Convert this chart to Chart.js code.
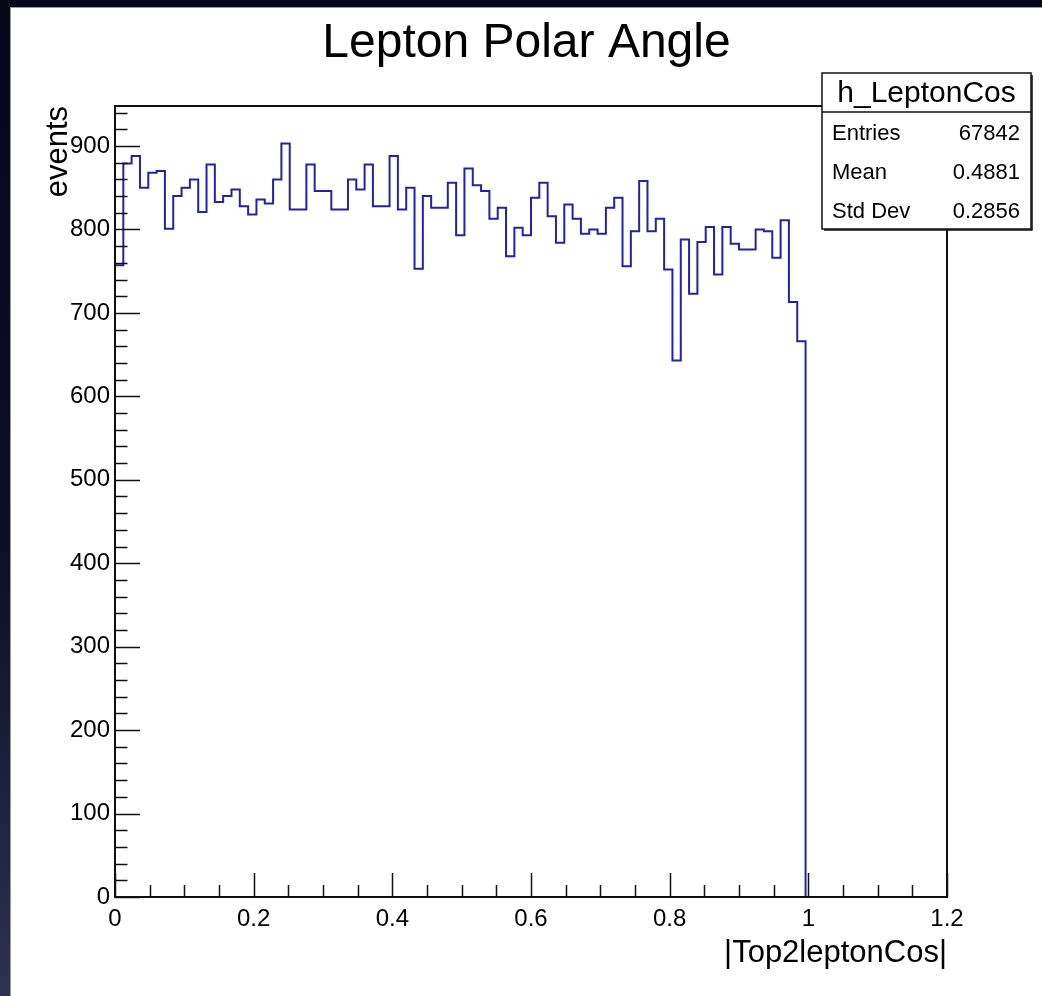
<!DOCTYPE html>
<html>
<head>
<meta charset="utf-8">
<title>Lepton Polar Angle</title>
<script src="https://cdn.jsdelivr.net/npm/chart.js@4/dist/chart.umd.min.js"></script>
<style>
  html, body { margin: 0; padding: 0; }
  body {
    width: 1042px; height: 996px; overflow: hidden; position: relative;
    background: linear-gradient(to bottom, #07071a 0%, #0d0e28 55%, #2d3250 100%);
  }
  #pad {
    position: absolute; left: 10px; top: 7px; width: 1031px; height: 988px;
    background: #fff; border-left: 1px solid #9a9a9a; border-top: 1px solid #9a9a9a;
  }
  #hist { display: block; }
</style>
</head>
<body>
<div id="pad"><canvas id="hist" width="1031" height="988"></canvas></div>
<script>
// histogram h_LeptonCos: 100 bins on [0, 1.2], only the first 83 are filled
const binLow = 0;
const binWidth = 0.012;
const counts = [
  757, 879, 888, 850, 868, 870, 801, 840, 850, 860,
  821, 878, 833, 840, 848, 828, 818, 836, 831, 860,
  903, 824, 824, 878, 846, 846, 824, 824, 860, 848,
  878, 828, 828, 888, 824, 850, 753, 840, 826, 826,
  856, 793, 873, 853, 846, 813, 826, 768, 802, 793,
  838, 856, 816, 784, 830, 813, 795, 800, 795, 826,
  838, 756, 798, 858, 798, 813, 752, 643, 788, 723,
  785, 803, 746, 803, 783, 776, 776, 800, 798, 766,
  811, 713, 666
];

// axes
const xTickValues = [0, 0.2, 0.4, 0.6, 0.8, 1.0, 1.2];
const xTickLabels = ['0', '0.2', '0.4', '0.6', '0.8', '1', '1.2'];
const yTickValues = [0, 100, 200, 300, 400, 500, 600, 700, 800, 900];
const yTickLabels = ['0', '100', '200', '300', '400', '500', '600', '700', '800', '900'];
const xMax = 1.2;
const yMax = 948;

// stats box
const statsName = 'h_LeptonCos';
const statLabels = ['Entries', 'Mean', 'Std Dev'];
const statValues = ['67842', '0.4881', '0.2856'];

// step outline points: left edge of each bin, then drop back to 0
const histPoints = counts.map((c, i) => ({ x: binLow + i * binWidth, y: c }));
histPoints.push({ x: binLow + counts.length * binWidth, y: 0 });

const FONT = "'Liberation Sans', Arial, Helvetica, sans-serif";
Chart.defaults.font.family = FONT;
Chart.defaults.color = '#000';

// frame, inner ticks (ROOT style) and the stats box
const rootPad = {
  id: 'rootPad',
  afterDatasetsDraw(chart) {
    const { ctx, chartArea: a, scales: { x, y } } = chart;
    ctx.save();
    ctx.strokeStyle = '#111';
    ctx.lineWidth = 1.5;
    ctx.beginPath();
    // y ticks every 20, major every 100
    for (let k = 0; k * 20 <= yMax; k++) {
      const py = Math.round(y.getPixelForValue(k * 20)) + 0.5;
      const len = (k % 5 === 0) ? 25 : 12.5;
      ctx.moveTo(a.left, py);
      ctx.lineTo(a.left + len, py);
    }
    // x ticks every 0.05, major every 0.2
    for (let k = 0; k <= 24; k++) {
      const px = Math.round(x.getPixelForValue(k * 0.05)) + 0.5;
      const len = (k % 4 === 0) ? 24 : 12;
      ctx.moveTo(px, a.bottom);
      ctx.lineTo(px, a.bottom - len);
    }
    ctx.stroke();
    ctx.lineWidth = 2;
    ctx.strokeRect(a.left, a.top, a.right - a.left, a.bottom - a.top);
    ctx.restore();
  },
  afterDraw(chart) {
    const ctx = chart.ctx;
    const bx = 811, by = 65, bw = 209, bh = 156, head = 39;
    ctx.save();
    ctx.fillStyle = '#fff';
    ctx.fillRect(bx, by, bw, bh);
    ctx.strokeStyle = '#111';
    ctx.lineWidth = 1.5;
    ctx.strokeRect(bx, by, bw, bh);
    ctx.beginPath();
    ctx.moveTo(bx + bw + 1, by + 2);
    ctx.lineTo(bx + bw + 1, by + bh + 1);
    ctx.lineTo(bx + 2, by + bh + 1);
    ctx.moveTo(bx, by + head);
    ctx.lineTo(bx + bw, by + head);
    ctx.stroke();

    ctx.fillStyle = '#000';
    ctx.textBaseline = 'middle';
    ctx.textAlign = 'center';
    ctx.font = '30px ' + FONT;
    ctx.fillText(statsName, bx + bw / 2, by + head / 2 + 1);

    ctx.font = '22px ' + FONT;
    statLabels.forEach((lab, i) => {
      const ty = by + 61 + i * 39;
      ctx.textAlign = 'left';
      ctx.fillText(lab, bx + 10, ty);
      ctx.textAlign = 'right';
      ctx.fillText(statValues[i], bx + bw - 11, ty);
    });
    ctx.restore();
  }
};

const chartconfig = {
  type: 'line',
  data: {
    datasets: [{
      data: histPoints,
      stepped: 'before',
      borderColor: '#2222a6',
      borderWidth: 2,
      pointRadius: 0,
      fill: false
    }]
  },
  options: {
    responsive: false,
    animation: false,
    events: [],
    layout: { padding: 0 },
    plugins: {
      legend: { display: false },
      tooltip: { enabled: false },
      title: {
        display: true,
        text: 'Lepton Polar Angle',
        color: '#000',
        font: { size: 48, weight: 'normal', lineHeight: 1.2 },
        padding: { top: 7, bottom: 33.4 }
      }
    },
    scales: {
      x: {
        type: 'linear',
        min: 0,
        max: xMax,
        afterFit: (scale) => { scale.height = 99; },
        afterBuildTicks: (scale) => { scale.ticks = xTickValues.map(v => ({ value: v })); },
        grid: { display: false, drawTicks: false },
        border: { display: false },
        ticks: {
          autoSkip: false,
          maxRotation: 0,
          padding: 8,
          font: { size: 24 },
          callback: (value, index) => xTickLabels[index]
        },
        title: {
          display: true,
          text: '|Top2leptonCos|',
          align: 'end',
          font: { size: 31 },
          padding: { top: 0, bottom: 23.5 }
        }
      },
      y: {
        type: 'linear',
        min: 0,
        max: yMax,
        afterFit: (scale) => { scale.width = 104; },
        afterBuildTicks: (scale) => { scale.ticks = yTickValues.map(v => ({ value: v })); },
        grid: { display: false, drawTicks: false },
        border: { display: false },
        ticks: {
          autoSkip: false,
          padding: 5,
          font: { size: 24 },
          callback: (value, index) => yTickLabels[index]
        },
        title: {
          display: true,
          text: 'events',
          align: 'end',
          font: { size: 31 },
          padding: { top: 28.6, bottom: 0 }
        }
      },
      // empty right margin so the pad keeps ROOT's right margin
      yRight: {
        type: 'linear',
        position: 'right',
        afterFit: (scale) => { scale.width = 95; },
        grid: { display: false, drawTicks: false },
        border: { display: false },
        ticks: { display: false }
      }
    }
  },
  plugins: [rootPad]
};

const canvas = document.getElementById('hist');
if (canvas) {
  new Chart(canvas, chartconfig);
}
</script>
</body>
</html>
